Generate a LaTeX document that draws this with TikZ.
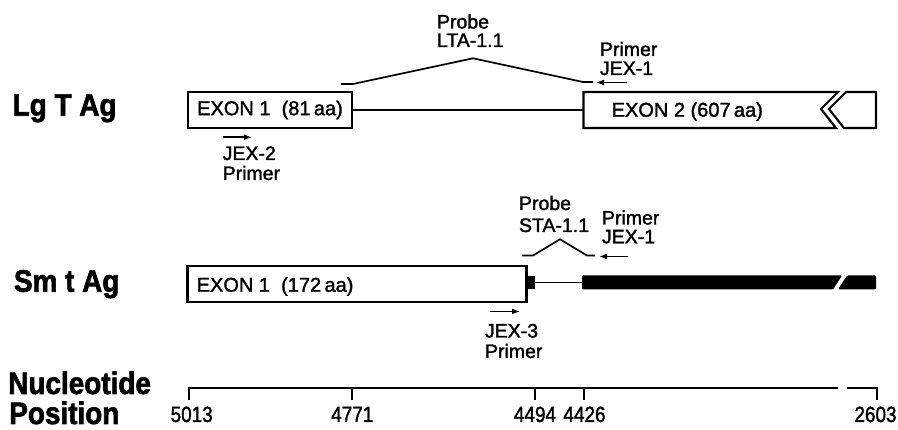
\documentclass[tikz,border=0pt]{standalone}
\usepackage{fontspec}
\usepackage{graphicx}
\setmainfont{Liberation Sans}
\newfontfamily\medfont[FakeBold=1.5]{Liberation Sans}
\newfontfamily\heavyfont[FakeBold=2.2]{Liberation Sans Bold}
\usetikzlibrary{arrows.meta}
\newcommand{\heavytxt}[1]{\scalebox{0.9}[1]{\heavyfont\fontsize{31}{31}\selectfont #1}}
\newcommand{\numtxt}[1]{\scalebox{0.86}[1]{\medfont\fontsize{22}{22}\selectfont #1}}
\begin{document}
\begin{tikzpicture}[x=1pt,y=-1pt,
  every node/.style={inner sep=0pt,outer sep=0pt},
  lbl/.style={anchor=base west,font=\medfont\fontsize{19.5}{19.5}\selectfont},
  exontext/.style={font=\medfont\fontsize{20}{20}\selectfont},
  big/.style={anchor=base west},
  num/.style={anchor=base},
  exonbox/.style={draw,line width=2.1pt},
  thinline/.style={line width=1.7pt},
  primer/.style={line width=1.6pt,-{Latex[length=8pt,width=6pt]}}]
\useasboundingbox (0,0) rectangle (898,430);

% row labels
\node[big] (lg) at (12.7,115.7) {\heavytxt{Lg T Ag}};
\node[big] (sm) at (14,291.7) {\heavytxt{Sm t Ag}};
\node[big] (nuc) at (8.3,394) {\heavytxt{Nucleotide}};
\node[big] (pos) at (9.3,424) {\heavytxt{Position}};

% ---------- Lg T Ag ----------
\node[exonbox,exontext,minimum width=164pt,minimum height=36pt] (ex1L) at (270,110) {EXON 1\ \ (81\,aa)};
\coordinate (ex2L) at (583.5,110);
\draw[exonbox,line join=miter] (583.5,92) -- (838,92) -- (821,109) -- (836,128) -- (583.5,128) -- cycle;
\draw[exonbox,line join=miter] (846,92) -- (876,92) -- (876,128) -- (844,128) -- (829,109) -- cycle;
\node[exontext,anchor=base west] (ex2t) at (611.7,116.7) {EXON 2 (607\,aa)};
\draw[thinline] (ex1L.east) -- (ex2L);

% probe LTA-1.1
\draw[thinline] (341,84) -- (353,84) -- (473,58.3) -- (583,82) -- (593,82);
\node[lbl] (pl1) at (437,28.5) {Probe};
\node[lbl] (pl2) at (437,47) {LTA-1.1};
% primer JEX-1
\coordinate (j1a) at (627,82.5);
\coordinate (j1b) at (596,82.5);
\draw[primer] (j1a) -- (j1b);
\node[lbl] (pj1) at (600,56) {Primer};
\node[lbl] (pj2) at (600,75) {JEX-1};
% primer JEX-2
\coordinate (j2a) at (223,137.3);
\coordinate (j2b) at (252,137.3);
\draw[primer] (j2a) -- (j2b);
\node[lbl] (pj3) at (222.7,160) {JEX-2};
\node[lbl] (pj4) at (222.7,180) {Primer};

% ---------- Sm t Ag ----------
\node[exonbox,minimum width=339pt,minimum height=36pt] (ex1S) at (357,284) {};
\node[exontext,anchor=base west] (ex1St) at (196.7,291.7) {EXON 1\ \ (172\,aa)};
\fill (527,276.5) rectangle (535,289);
\coordinate (smA) at (535,282.5);
\coordinate (smB) at (582,282.5);
\draw[thinline] (smA) -- (smB);
\fill[rounded corners=1.2pt] (582,275.5) -- (842,275.5) -- (833,289.5) -- (582,289.5) -- cycle;
\fill[rounded corners=1.2pt] (847,275.5) -- (876,275.5) -- (876,289.5) -- (838,289.5) -- cycle;

% probe STA-1.1
\draw[thinline] (522,255.5) -- (533,255.5) -- (560,239.3) -- (587,255.5) -- (595,255.5);
\node[lbl] (ps1) at (519,210) {Probe};
\node[lbl] (ps2) at (519,232) {STA-1.1};
% primer JEX-1 (small)
\coordinate (j1c) at (628,256.5);
\coordinate (j1d) at (599,256.5);
\draw[primer] (j1c) -- (j1d);
\node[lbl] (ps3) at (602,224.5) {Primer};
\node[lbl] (ps4) at (602,243.3) {JEX-1};
% primer JEX-3
\coordinate (j3a) at (490,311.5);
\coordinate (j3b) at (520,311.5);
\draw[primer] (j3a) -- (j3b);
\node[lbl] (pj5) at (485,337.5) {JEX-3};
\node[lbl] (pj6) at (485,358) {Primer};

% ---------- scale ----------
\draw[thinline] (189.3,400) -- (189.3,388.3) -- (838.3,388.3);
\draw[thinline] (846.7,388.3) -- (877.3,388.3) -- (877.3,400);
\foreach \xx in {352.3,535,584.3} \draw[thinline] (\xx,388.3) -- (\xx,400);
\node[num] (n1) at (191.7,422) {\numtxt{5013}};
\node[num] (n2) at (352.3,422) {\numtxt{4771}};
\node[num] (n3) at (535,422) {\numtxt{4494}};
\node[num] (n4) at (584.5,422) {\numtxt{4426}};
\node[num] (n5) at (875.5,422) {\numtxt{2603}};
\end{tikzpicture}
\end{document}
